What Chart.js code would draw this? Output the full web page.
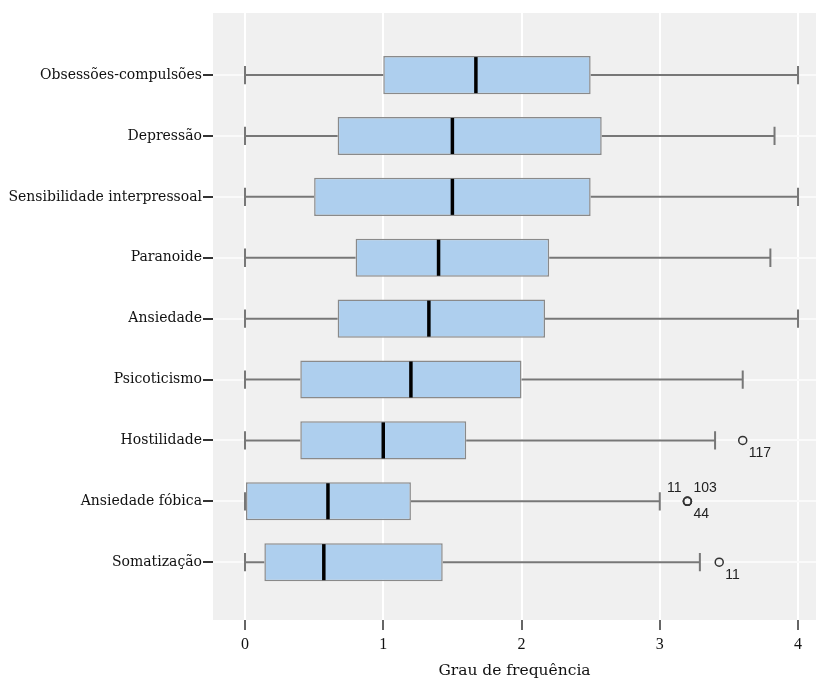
<!DOCTYPE html>
<html>
<head>
<meta charset="utf-8">
<script src="https://cdn.jsdelivr.net/npm/chart.js@4.4.1/dist/chart.umd.min.js"></script>
<style>html,body{margin:0;background:#fff}</style>
</head>
<body>
<canvas id="chart" width="816" height="679"></canvas>
<script>
// BSI dimensions, top to bottom
const categories = ['Obsessões-compulsões', 'Depressão', 'Sensibilidade interpressoal', 'Paranoide',
  'Ansiedade', 'Psicoticismo', 'Hostilidade', 'Ansiedade fóbica', 'Somatização'];
const minVals = [0, 0, 0, 0, 0, 0, 0, 0, 0];
const q1Vals = [1.00, 0.67, 0.50, 0.80, 0.67, 0.40, 0.40, 0.00, 0.14];
const medians = [1.67, 1.50, 1.50, 1.40, 1.33, 1.20, 1.00, 0.60, 0.57];
const q3Vals = [2.50, 2.58, 2.50, 2.20, 2.17, 2.00, 1.60, 1.20, 1.43];
const maxVals = [4.00, 3.83, 4.00, 3.80, 4.00, 3.60, 3.40, 3.00, 3.29];

// outliers: category index, value, case id
const outlierCat = [6, 7, 7, 7, 8];
const outlierVal = [3.60, 3.20, 3.20, 3.20, 3.43];
const outlierId = ['117', '11', '103', '44', '11'];

const xTicks = [0, 1, 2, 3, 4];
const xTitle = 'Grau de frequência';

const serif = '"DejaVu Serif", serif';
const numSerif = '"Liberation Serif", serif';

const plotBackground = {
  id: 'plotBackground',
  beforeDraw(chart) {
    const { ctx, chartArea: a } = chart;
    ctx.save();
    ctx.fillStyle = '#f0f0f0';
    ctx.fillRect(a.left, a.top, a.right - a.left, a.bottom - a.top);
    ctx.restore();
  }
};

const boxParts = {
  id: 'boxParts',
  beforeDatasetsDraw(chart) {
    const { ctx, scales: { x, y } } = chart;
    const bars = chart.getDatasetMeta(0).data;
    ctx.save();
    ctx.strokeStyle = '#777';
    ctx.lineWidth = 2;
    categories.forEach((c, i) => {
      const py = y.getPixelForValue(i + 1);
      const cap = bars[i].height * 0.24;
      const xmin = x.getPixelForValue(minVals[i]);
      const xmax = x.getPixelForValue(maxVals[i]);
      ctx.beginPath();
      ctx.moveTo(xmin, py); ctx.lineTo(x.getPixelForValue(q1Vals[i]), py);
      ctx.moveTo(x.getPixelForValue(q3Vals[i]), py); ctx.lineTo(xmax, py);
      ctx.moveTo(xmin, py - cap); ctx.lineTo(xmin, py + cap);
      ctx.moveTo(xmax, py - cap); ctx.lineTo(xmax, py + cap);
      ctx.stroke();
    });
    ctx.restore();
  },
  afterDatasetsDraw(chart) {
    const { ctx, scales: { x, y } } = chart;
    const bars = chart.getDatasetMeta(0).data;
    ctx.save();
    // medians
    ctx.strokeStyle = '#000';
    ctx.lineWidth = 3.5;
    categories.forEach((c, i) => {
      const py = y.getPixelForValue(i + 1);
      const h = bars[i].height / 2 - 1;
      const px = x.getPixelForValue(medians[i]);
      ctx.beginPath();
      ctx.moveTo(px, py - h); ctx.lineTo(px, py + h);
      ctx.stroke();
    });
    // outliers
    ctx.strokeStyle = '#333';
    ctx.lineWidth = 1.5;
    ctx.fillStyle = '#222';
    ctx.font = '14px "Liberation Sans", Arial, sans-serif';
    ctx.textBaseline = 'middle';
    const groups = {};
    outlierVal.forEach((v, k) => {
      const key = outlierCat[k] + ':' + v;
      (groups[key] = groups[key] || []).push(k);
    });
    Object.values(groups).forEach(list => {
      list.forEach((k, n) => {
        const px = x.getPixelForValue(outlierVal[k]);
        const py = y.getPixelForValue(outlierCat[k] + 1);
        ctx.beginPath();
        ctx.arc(px, py, 4, 0, Math.PI * 2);
        ctx.stroke();
        const place = list.length === 1 ? 'br' : ['tl', 'tr', 'br'][n % 3];
        ctx.textAlign = place === 'tl' ? 'right' : 'left';
        const lx = place === 'tl' ? px - 6 : px + 6;
        const ly = place === 'br' ? py + 13 : py - 13;
        ctx.fillText(outlierId[k], lx, ly);
      });
    });
    ctx.restore();
  }
};

new Chart(document.getElementById('chart'), {
  type: 'bar',
  data: {
    datasets: [{
      data: q1Vals.map((q, i) => ({ x: [q, q3Vals[i]], y: i + 1 })),
      backgroundColor: '#aecfee',
      borderColor: '#8a8a8a',
      borderWidth: 1.5,
      borderSkipped: false,
      categoryPercentage: 1,
      barPercentage: 0.625
    }]
  },
  options: {
    indexAxis: 'y',
    responsive: false,
    animation: false,
    devicePixelRatio: 1,
    layout: { padding: { top: 13, right: 0, left: 0, bottom: 0 } },
    plugins: { legend: { display: false }, tooltip: { enabled: false } },
    scales: {
      x: {
        type: 'linear',
        min: -0.2315,
        max: 4.13,
        afterBuildTicks: s => { s.ticks = xTicks.map(v => ({ value: v })); },
        afterFit: s => { s.height = 59; },
        border: { display: false },
        grid: { color: '#ffffff', lineWidth: 2, tickColor: '#333', tickWidth: 1.5, tickLength: 10 },
        ticks: { color: '#111', padding: 5, font: { family: numSerif, size: 16 } },
        title: {
          display: true, text: xTitle, color: '#111',
          font: { family: serif, size: 15.5, lineHeight: 1 }, padding: { top: 0, bottom: 0 }
        }
      },
      y: {
        type: 'linear',
        reverse: true,
        offset: false,
        min: -0.02,
        max: 9.95,
        afterBuildTicks: s => { s.ticks = categories.map((c, i) => ({ value: i + 1 })); },
        afterFit: s => { s.width = 213; },
        border: { display: false },
        grid: { offset: false, color: '#fafafa', lineWidth: 2, tickColor: '#333', tickWidth: 2, tickLength: 10 },
        ticks: {
          color: '#111', padding: 1, font: { family: serif, size: 14 },
          callback: v => categories[v - 1] || ''
        }
      }
    }
  },
  plugins: [plotBackground, boxParts]
});
</script>
</body>
</html>
